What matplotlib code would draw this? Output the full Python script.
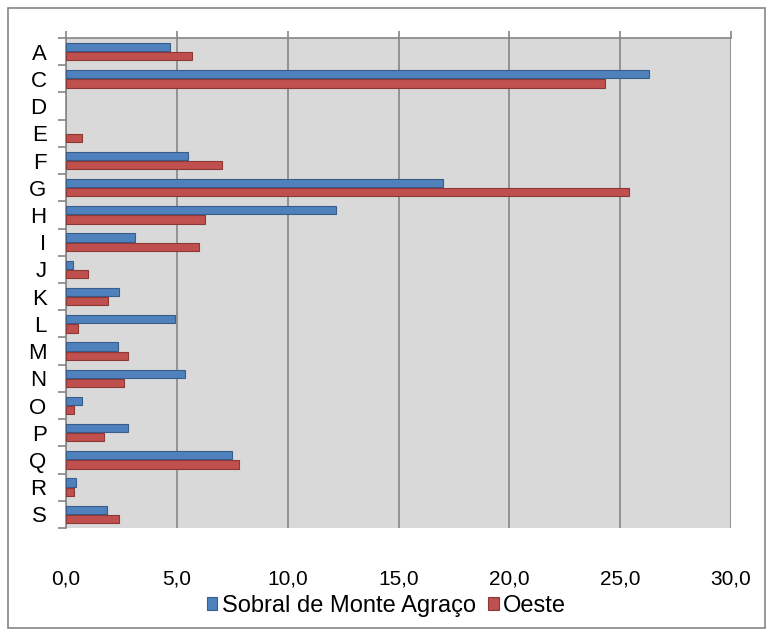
import numpy as np
import matplotlib.pyplot as plt
from matplotlib.patches import Rectangle

categories = ['A', 'C', 'D', 'E', 'F', 'G', 'H', 'I', 'J', 'K', 'L', 'M', 'N', 'O', 'P', 'Q', 'R', 'S']
sobral = [4.7, 26.3, 0.0, 0.0, 5.5, 17.0, 12.2, 3.1, 0.3, 2.4, 4.9, 2.35, 5.35, 0.7, 2.8, 7.5, 0.45, 1.85]
oeste = [5.7, 24.3, 0.0, 0.7, 7.05, 25.4, 6.25, 6.0, 1.0, 1.9, 0.55, 2.8, 2.6, 0.35, 1.7, 7.8, 0.35, 2.4]
xticks = [0, 5, 10, 15, 20, 25, 30]

plt.rcParams['font.family'] = ['Liberation Sans', 'DejaVu Sans']

fig = plt.figure(figsize=(7.73, 6.36), dpi=100)
ax = fig.add_axes([66 / 773, 1 - 528 / 636, 665 / 773, 490 / 636])
ax.set_facecolor('#D9D9D9')

y = np.arange(len(categories))
h = 0.3
ax.barh(y - 0.17, sobral, height=h, color='#4F81BD', edgecolor='#385D8A',
        linewidth=[0.8 if v > 0 else 0 for v in sobral],
        label='Sobral de Monte Agraço', zorder=3)
ax.barh(y + 0.17, oeste, height=h, color='#C0504D', edgecolor='#8C3836',
        linewidth=[0.8 if v > 0 else 0 for v in oeste],
        label='Oeste', zorder=3)

ax.set_xlim(0, 30)
ax.set_ylim(len(categories) - 0.5, -0.5)
ax.set_xticks(xticks)
ax.set_xticklabels([f'{v:.1f}'.replace('.', ',') for v in xticks], fontsize=15)
ax.tick_params(axis='x', length=0, pad=30)
ax.grid(axis='x', color='#868686', linewidth=1.2, zorder=1)

ax.set_yticks(y)
ax.set_yticklabels(categories, fontsize=16)
ax.set_yticks(np.arange(len(categories) + 1) - 0.5, minor=True)
ax.tick_params(axis='y', which='major', length=0, pad=14)
ax.tick_params(axis='y', which='minor', length=6, color='#868686', width=1.2)

# value axis line sits on the top edge, with small ticks pointing up
top = ax.secondary_xaxis('top')
top.set_xticks(xticks, labels=[])
top.tick_params(length=5, color='#868686', width=1.2)
top.spines['top'].set_color('#868686')
top.spines['top'].set_linewidth(1.2)

for s in ['bottom', 'right', 'top']:
    ax.spines[s].set_visible(False)
ax.spines['left'].set_color('#868686')
ax.spines['left'].set_linewidth(1.2)

fig.legend(loc='center', bbox_to_anchor=(0.5, 1 - 606 / 636), ncol=2,
           frameon=False, fontsize=17, handlelength=0.45, handleheight=0.45,
           handletextpad=0.2, columnspacing=0.5)

fig.patches.append(Rectangle((8 / 773, 8 / 636), 757 / 773, 620 / 636,
                             transform=fig.transFigure, fill=False,
                             edgecolor='#868686', linewidth=1.2))

fig.savefig('out.png', dpi=100)
